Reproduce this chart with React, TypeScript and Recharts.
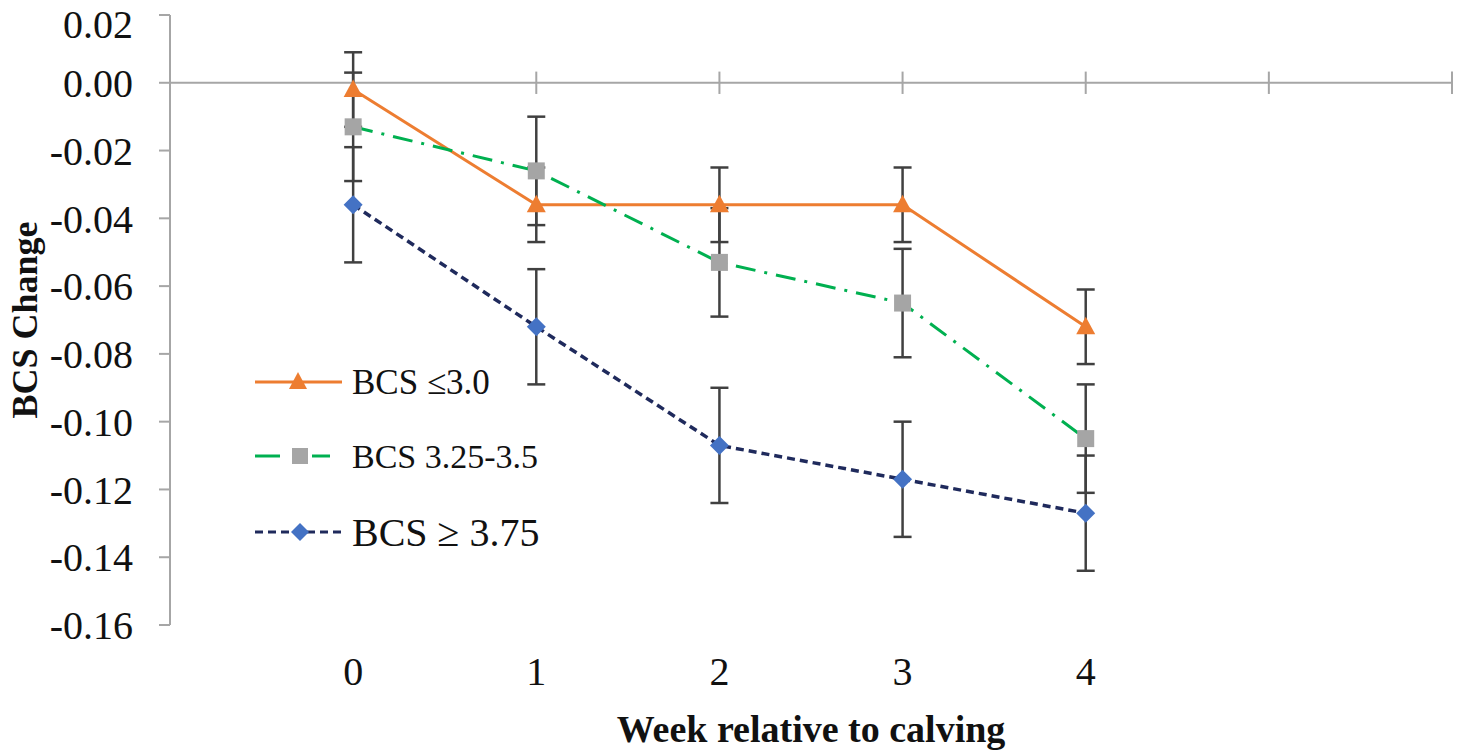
import React from 'react';
import { LineChart, Line, XAxis, YAxis, ErrorBar, ReferenceLine, Legend, Label } from 'recharts';

// week relative to calving
const weeks = [0, 1, 2, 3, 4];
const axisMarks = [-1, 0, 1, 2, 3, 4, 5, 6];
const yTicks = [-0.16, -0.14, -0.12, -0.1, -0.08, -0.06, -0.04, -0.02, 0, 0.02];

// BCS change per group, with SE
const bcsLow = [-0.002, -0.036, -0.036, -0.036, -0.072];
const bcsLowSe = [0.011, 0.011, 0.011, 0.011, 0.011];
const bcsMid = [-0.013, -0.026, -0.053, -0.065, -0.105];
const bcsMidSe = [0.016, 0.016, 0.016, 0.016, 0.016];
const bcsHigh = [-0.036, -0.072, -0.107, -0.117, -0.127];
const bcsHighSe = [0.017, 0.017, 0.017, 0.017, 0.017];

const data = weeks.map((w, i) => ({
    week: w,
    low: bcsLow[i],
    lowSe: bcsLowSe[i],
    mid: bcsMid[i],
    midSe: bcsMidSe[i],
    high: bcsHigh[i],
    highSe: bcsHighSe[i],
}));

const serif = "'Liberation Serif', 'Times New Roman', serif";
const axisGray = '#A6A6A6';
const errColor = '#404040';

const Triangle = (props: any) => {
    const { cx, cy } = props;
    if (cx == null || cy == null) return null;
    return <polygon points={`${cx},${cy - 10} ${cx - 9.5},${cy + 7.5} ${cx + 9.5},${cy + 7.5}`} fill="#ED7D31" />;
};

const Square = (props: any) => {
    const { cx, cy } = props;
    if (cx == null || cy == null) return null;
    return <rect x={cx - 8.5} y={cy - 8.5} width={17} height={17} fill="#A5A5A5" />;
};

const Diamond = (props: any) => {
    const { cx, cy } = props;
    if (cx == null || cy == null) return null;
    return <polygon points={`${cx},${cy - 9.5} ${cx + 9.5},${cy} ${cx},${cy + 9.5} ${cx - 9.5},${cy}`} fill="#4472C4" />;
};

const renderLegend = () => (
    <svg width={300} height={230} style={{ display: 'block' }}>
        <g>
            <line x1={0} y1={37} x2={87} y2={37} stroke="#ED7D31" strokeWidth={3} />
            <polygon points="43,27 34,44 52,44" fill="#ED7D31" />
            <text x={97} y={37} dy="0.35em" fontFamily={serif} fontSize={35} fill="#111">BCS ≤3.0</text>
        </g>
        <g>
            <line x1={0} y1={111} x2={25} y2={111} stroke="#00B050" strokeWidth={3} />
            <rect x={37} y={103} width={16} height={16} fill="#A5A5A5" />
            <line x1={57} y1={111} x2={75} y2={111} stroke="#00B050" strokeWidth={3} />
            <text x={97} y={111} dy="0.35em" fontFamily={serif} fontSize={34} fill="#111">BCS 3.25-3.5</text>
        </g>
        <g>
            <line x1={0} y1={187} x2={87} y2={187} stroke="#1F2A5C" strokeWidth={3} strokeDasharray="8 5" />
            <polygon points="45,178 54,187 45,196 36,187" fill="#4472C4" />
            <text x={97} y={187} dy="0.35em" fontFamily={serif} fontSize={40} fill="#111">BCS ≥ 3.75</text>
        </g>
    </svg>
);

export default function App() {
    return (
        <div style={{ position: 'absolute', left: 0, top: 0 }}>
            <LineChart width={1458} height={756} data={data} margin={{ top: 15, right: 6, bottom: 0, left: 0 }}>
                <XAxis
                    dataKey="week"
                    type="number"
                    domain={[-1, 6]}
                    ticks={weeks}
                    axisLine={false}
                    tickLine={false}
                    tickSize={0}
                    tickMargin={32}
                    height={131}
                    tick={{ fontSize: 40, fontFamily: serif, fill: '#111' }}
                >
                    <Label
                        value="Week relative to calving"
                        position="insideBottom"
                        offset={14}
                        style={{ fontSize: 38, fontWeight: 'bold', fontFamily: serif, fill: '#111' }}
                    />
                </XAxis>
                <YAxis
                    type="number"
                    domain={[-0.16, 0.02]}
                    ticks={yTicks}
                    width={170}
                    axisLine={{ stroke: axisGray, strokeWidth: 2 }}
                    tickLine={{ stroke: axisGray, strokeWidth: 2 }}
                    tickSize={11}
                    tickMargin={26}
                    tickFormatter={(v: number) => v.toFixed(2)}
                    tick={{ fontSize: 40, fontFamily: serif, fill: '#111' }}
                >
                    <Label
                        value="BCS Change"
                        angle={-90}
                        position="insideLeft"
                        offset={24}
                        style={{ textAnchor: 'middle', fontSize: 36, fontWeight: 'bold', fontFamily: serif, fill: '#111' }}
                    />
                </YAxis>
                <ReferenceLine y={0} stroke={axisGray} strokeWidth={2} />
                {axisMarks.map((m) => (
                    <ReferenceLine
                        key={m}
                        segment={[{ x: m, y: 0.0033 }, { x: m, y: -0.0033 }]}
                        stroke={axisGray}
                        strokeWidth={2}
                    />
                ))}
                <Legend
                    layout="vertical"
                    align="center"
                    verticalAlign="middle"
                    content={renderLegend}
                    wrapperStyle={{ left: 255, top: 345, width: 300 }}
                />
                <Line
                    dataKey="low"
                    name="BCS ≤3.0"
                    stroke="#ED7D31"
                    strokeWidth={3}
                    dot={<Triangle />}
                    activeDot={false}
                    isAnimationActive={false}
                >
                    <ErrorBar dataKey="lowSe" direction="y" width={9} stroke={errColor} strokeWidth={2.5} isAnimationActive={false} />
                </Line>
                <Line
                    dataKey="mid"
                    name="BCS 3.25-3.5"
                    stroke="#00B050"
                    strokeWidth={3}
                    strokeDasharray="20 9 3 9"
                    dot={<Square />}
                    activeDot={false}
                    isAnimationActive={false}
                >
                    <ErrorBar dataKey="midSe" direction="y" width={9} stroke={errColor} strokeWidth={2.5} isAnimationActive={false} />
                </Line>
                <Line
                    dataKey="high"
                    name="BCS ≥ 3.75"
                    stroke="#1F2A5C"
                    strokeWidth={3.5}
                    strokeDasharray="8 5"
                    dot={<Diamond />}
                    activeDot={false}
                    isAnimationActive={false}
                >
                    <ErrorBar dataKey="highSe" direction="y" width={9} stroke={errColor} strokeWidth={2.5} isAnimationActive={false} />
                </Line>
            </LineChart>
        </div>
    );
}
